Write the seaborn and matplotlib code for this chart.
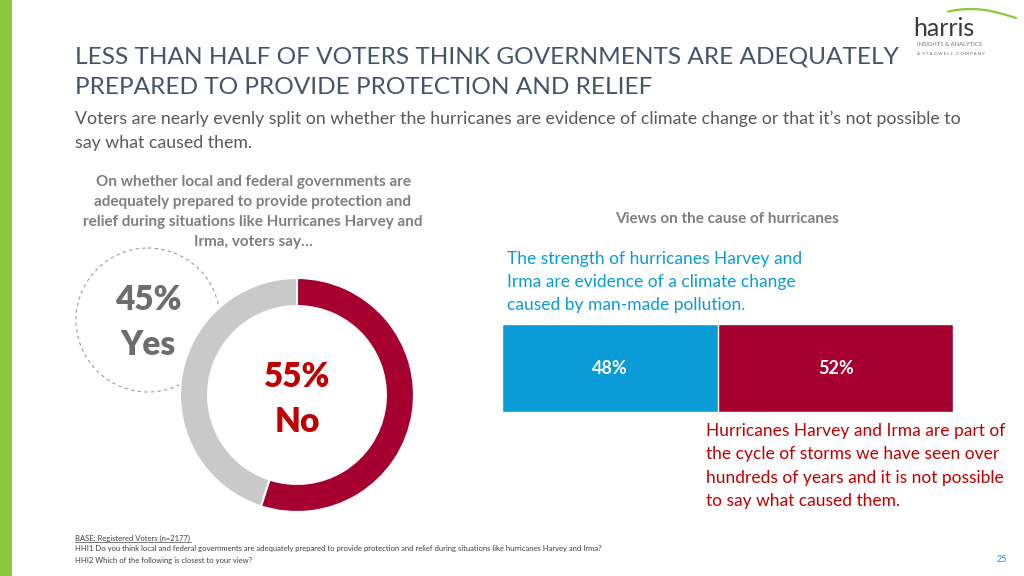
import matplotlib
matplotlib.use("Agg")
import matplotlib.pyplot as plt
import matplotlib.patches as mpatches
import seaborn as sns
import pandas as pd
import numpy as np

# --- data ---
prepared_labels = ["No", "Yes"]
prepared_values = [55, 45]

cause_labels = ["Climate change (man-made pollution)", "Natural cycle / not possible to say"]
cause_values = [48, 52]

RED = "#a50030"
GRAY = "#c9c9c9"
BLUE = "#0a9bd6"
DARK_RED = "#c00000"
TITLE_C = "#44546a"
TEXT_C = "#595959"
HEAD_C = "#7f7f7f"

sns.set_theme(style="white")
plt.rcParams["font.family"] = ["Lato", "DejaVu Sans"]

W, H = 1024, 576
fig = plt.figure(figsize=(W / 100, H / 100), dpi=100)


def px(x, y):
    return x / W, 1 - y / H


# background axes in pixel coords (for the green bar and dashed circle)
bg = fig.add_axes([0, 0, 1, 1], zorder=0)
bg.set_xlim(0, W)
bg.set_ylim(H, 0)
bg.axis("off")
bg.add_patch(mpatches.Rectangle((0, 0), 12, H, color="#8dc63f", lw=0))
bg.add_patch(mpatches.Circle((148, 320), 72, fill=False, ls=(0, (3, 3)), lw=0.8, ec="#9a9a9a"))

# logo arc
t = np.linspace(0, 1, 40)
bg.plot(948 + 68 * t, 18 - 9 * np.sin(np.pi * (0.25 + 0.75 * t)), color="#8dc63f", lw=1.6)

# --- donut ---
r = 117
dax = fig.add_axes([(297 - r) / W, 1 - (395 + r) / H, 2 * r / W, 2 * r / H], zorder=1)
dax.pie(prepared_values, colors=[RED, GRAY], startangle=90, counterclock=False,
        wedgeprops=dict(width=0.24, edgecolor="white", linewidth=1.5))
dax.set_xlim(-1, 1)
dax.set_ylim(-1, 1)
dax.patch.set_alpha(0)

# --- stacked bar ---
bax = fig.add_axes([502 / W, 1 - 412 / H, (953 - 502) / W, 88 / H], zorder=1)
df = pd.DataFrame({"row": ["cause"], "total": [sum(cause_values)], "first": [cause_values[0]]})
sns.barplot(data=df, x="total", y="row", color=RED, width=1, saturation=1, ax=bax, orient="h")
sns.barplot(data=df, x="first", y="row", color=BLUE, width=1, saturation=1, ax=bax, orient="h")
bax.set_xlim(0, 100)
bax.set_ylim(0.5, -0.5)
bax.axis("off")
for p, v in zip([cause_values[0] / 2, cause_values[0] + cause_values[1] / 2], cause_values):
    bax.text(p, 0, f"{v}%", ha="center", va="center", color="white", fontsize=13, fontweight="bold")

# --- texts ---
fig.text(*px(75, 57), "LESS THAN HALF OF VOTERS THINK GOVERNMENTS ARE ADEQUATELY",
         fontsize=17.6, color=TITLE_C, va="center")
fig.text(*px(75, 88), "PREPARED TO PROVIDE PROTECTION AND RELIEF",
         fontsize=17.6, color=TITLE_C, va="center")
fig.text(*px(75, 119), "Voters are nearly evenly split on whether the hurricanes are evidence of climate change or that it\u2019s not possible to",
         fontsize=12.8, color=TEXT_C, va="center")
fig.text(*px(75, 143), "say what caused them.", fontsize=12.8, color=TEXT_C, va="center")

fig.text(*px(253, 212), "On whether local and federal governments are\nadequately prepared to provide protection and\nrelief during situations like Hurricanes Harvey and\nIrma, voters say\u2026",
         fontsize=11, color=HEAD_C, fontweight="bold", ha="center", va="center", linespacing=1.55)
fig.text(*px(727, 219), "Views on the cause of hurricanes", fontsize=11, color=HEAD_C,
         fontweight="bold", ha="center", va="center")

fig.text(*px(148, 300), f"{prepared_values[1]}%", fontsize=24, color="#6d6d6d", fontweight="heavy", ha="center", va="center")
fig.text(*px(148, 345), prepared_labels[1], fontsize=24, color="#6d6d6d", fontweight="heavy", ha="center", va="center")
fig.text(*px(297, 377), f"{prepared_values[0]}%", fontsize=24, color=DARK_RED, fontweight="heavy", ha="center", va="center")
fig.text(*px(297, 422), prepared_labels[0], fontsize=24, color=DARK_RED, fontweight="heavy", ha="center", va="center")

fig.text(*px(507, 282), "The strength of hurricanes Harvey and\nIrma are evidence of a climate change\ncaused by man-made pollution.",
         fontsize=12.5, color=BLUE, va="center", linespacing=1.57)
fig.text(*px(706, 466), "Hurricanes Harvey and Irma are part of\nthe cycle of storms we have seen over\nhundreds of years and it is not possible\nto say what caused them.",
         fontsize=12.5, color=DARK_RED, va="center", linespacing=1.57)

# footer
fig.text(*px(75, 538), "BASE: Registered Voters (n=2177)", fontsize=5.5, color="#404040", va="center")
bg.plot([75, 191], [542, 542], color="#404040", lw=0.5)
fig.text(*px(75, 549), "HHI1 Do you think local and federal governments are adequately prepared to provide protection and relief during situations like hurricanes Harvey and Irma?",
         fontsize=5.5, color="#404040", va="center")
fig.text(*px(75, 561), "HHI2 Which of the following is closest to your view?", fontsize=5.5, color="#404040", va="center")
fig.text(*px(1002, 559), "25", fontsize=6.5, color=BLUE, va="center", ha="center")

# logo text
fig.text(*px(944, 28), "harris", fontsize=18, color="#3a3a3a", va="center", ha="center")
fig.text(*px(917, 45), "INSIGHTS & ANALYTICS", fontsize=4.2, color="#6d6d6d", va="center", ha="left")
fig.text(*px(917, 54), "A  S T A G W E L L   C O M P A N Y", fontsize=3.2, color="#6d6d6d", va="center", ha="left")

fig.savefig("out.png", dpi=100)
